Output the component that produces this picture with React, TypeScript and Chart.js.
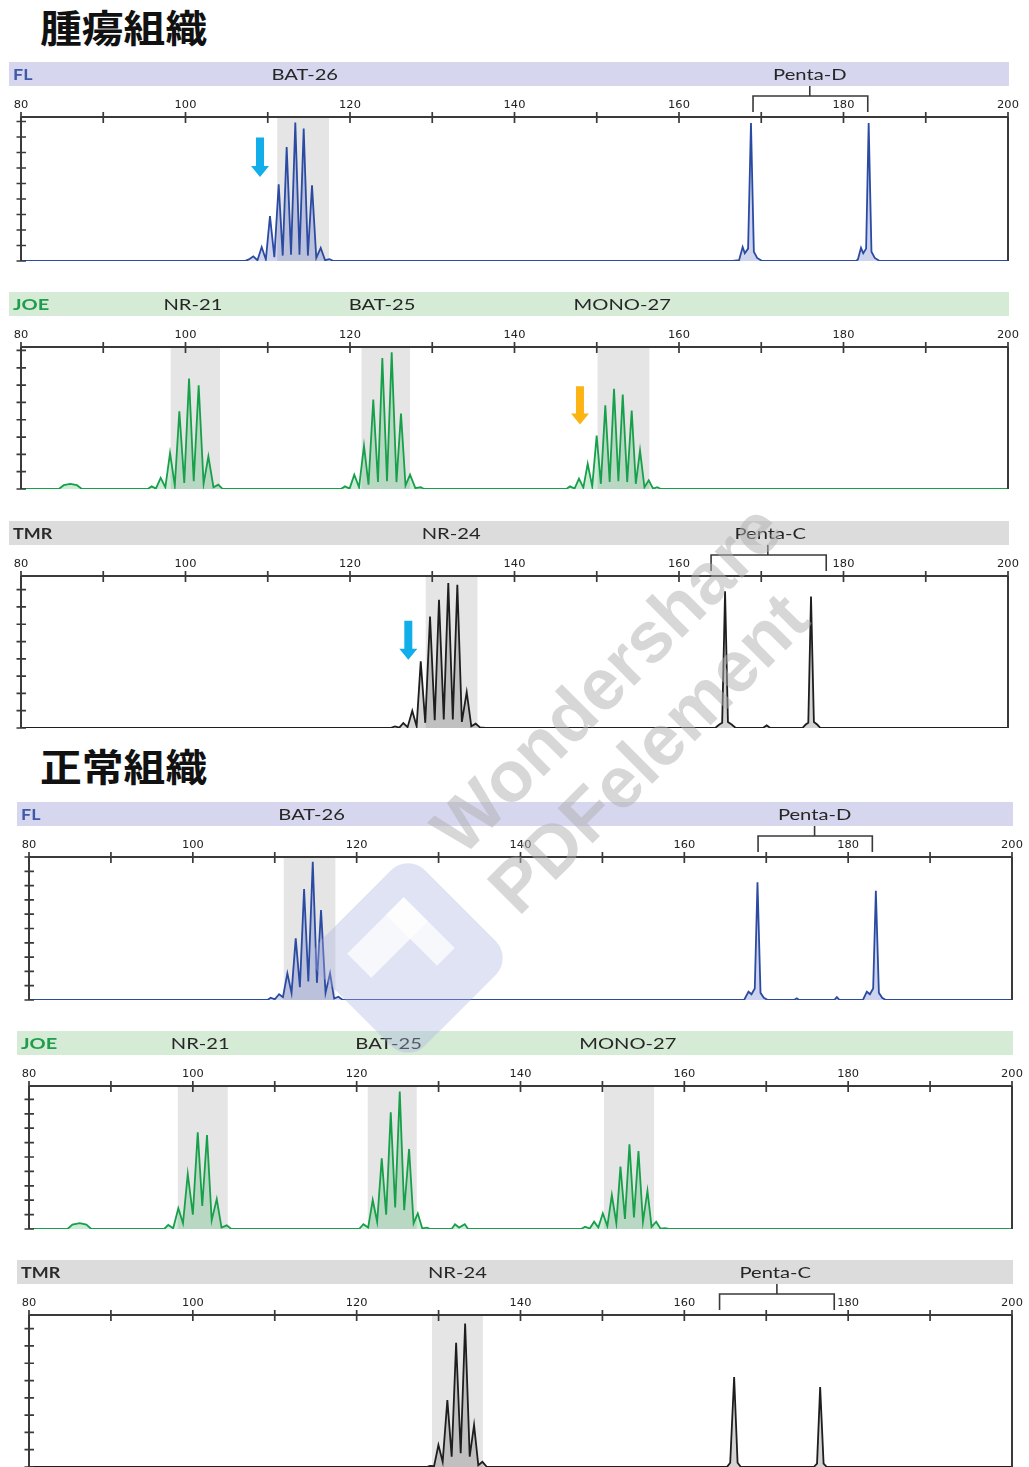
import React, { useEffect, useRef } from 'react';
import { Chart, registerables } from 'chart.js';

Chart.register(...registerables);

type Pt = [number, number];

// ---------- DATA ----------
const xTickValues = [80, 90, 100, 110, 120, 130, 140, 150, 160, 170, 180, 190, 200];
const xTickLabels = ['80', '100', '120', '140', '160', '180', '200'];
const xLabelValues = [80, 100, 120, 140, 160, 180, 200];

const flMarkers = ['BAT-26', 'Penta-D'];
const flMarkerPos = [114.5, 175.9];
const joeMarkers = ['NR-21', 'BAT-25', 'MONO-27'];
const joeMarkerPos = [100.9, 123.9, 153.1];
const tmrMarkers = ['NR-24', 'Penta-C'];
const tmrMarkerPos = [132.3, 171.1];

const flTumorTrace: Pt[] = [
  [80, 0], [107.2, 0], [107.7, 0.1], [108.24, 0.3], [108.75, 0.05], [109.26, 0.9], [109.77, 0.1],
  [110.27, 2.9], [110.8, 0.25], [111.33, 4.95], [111.82, 0.35], [112.3, 7.35], [112.83, 0.4],
  [113.35, 8.93], [113.86, 0.4], [114.37, 8.54], [114.88, 0.35], [115.38, 4.88], [115.9, 0.2],
  [116.44, 0.84], [116.97, 0.05], [117.5, 0.12], [118.0, 0],
  [166.5, 0], [167.3, 0.05], [167.74, 0.9], [168.0, 0.5], [168.4, 0.8], [168.75, 8.9], [169.1, 0.6],
  [169.5, 0.2], [170.1, 0],
  [181.5, 0], [181.75, 0.1], [182.13, 0.85], [182.4, 0.5], [182.75, 0.8], [183.06, 8.9], [183.4, 0.6],
  [183.8, 0.2], [184.4, 0], [200, 0],
];
const joeTumorTrace: Pt[] = [
  [80, 0], [84.6, 0], [85.2, 0.22], [86.0, 0.3], [86.8, 0.22], [87.4, 0],
  [95.4, 0], [95.89, 0.15], [96.4, 0.02], [96.98, 0.64], [97.55, 0.1], [98.12, 2.08], [98.7, 0.2],
  [99.25, 4.49], [99.85, 0.35], [100.43, 6.38], [101.0, 0.45], [101.6, 5.99], [102.2, 0.3],
  [102.78, 1.88], [103.4, 0.1], [103.99, 0.25], [104.5, 0],
  [118.9, 0], [119.39, 0.15], [119.95, 0.02], [120.52, 0.83], [121.1, 0.1], [121.7, 2.5], [122.25, 0.25],
  [122.83, 5.16], [123.4, 0.4], [123.93, 7.57], [124.5, 0.45], [125.07, 7.9], [125.65, 0.4],
  [126.2, 4.35], [126.75, 0.2], [127.3, 0.83], [127.95, 0.05], [128.6, 0.1], [129.0, 0],
  [146.3, 0], [146.75, 0.15], [147.3, 0.02], [147.84, 0.6], [148.37, 0.08], [148.9, 1.46], [149.45, 0.15],
  [149.99, 3.08], [150.5, 0.3], [151.04, 4.83], [151.57, 0.4], [152.1, 5.78], [152.63, 0.45],
  [153.16, 5.45], [153.7, 0.4], [154.25, 4.53], [154.75, 0.3], [155.26, 2.23], [155.8, 0.1],
  [156.32, 0.5], [156.85, 0.02], [157.36, 0.1], [157.8, 0], [200, 0],
];
const tmrTumorTrace: Pt[] = [
  [80, 0], [124.9, 0], [125.47, 0.09], [126.0, 0.02], [126.48, 0.29], [127.0, 0.05], [127.57, 1.0],
  [128.1, 0.1], [128.6, 3.85], [129.15, 0.3], [129.73, 6.45], [130.3, 0.45], [130.82, 7.42],
  [131.4, 0.5], [131.95, 8.38], [132.5, 0.5], [133.05, 8.28], [133.6, 0.35], [134.19, 2.08],
  [134.75, 0.1], [135.28, 0.25], [135.8, 0.03], [136.5, 0],
  [164.4, 0], [164.9, 0.2], [165.25, 0.3], [165.6, 7.9], [165.95, 0.35], [166.4, 0.2], [166.9, 0],
  [170.2, 0], [170.66, 0.15], [171.1, 0],
  [175.0, 0], [175.4, 0.2], [175.72, 0.3], [176.05, 7.6], [176.4, 0.35], [176.8, 0.2], [177.2, 0], [200, 0],
];
const flNormalTrace: Pt[] = [
  [80, 0], [109.1, 0], [109.51, 0.16], [110.0, 0.05], [110.53, 0.4], [111.0, 0.2], [111.54, 1.87],
  [112.05, 0.5], [112.56, 4.31], [113.07, 0.9], [113.58, 7.76], [114.1, 1.3], [114.64, 9.67],
  [115.15, 1.2], [115.65, 6.29], [116.2, 0.5], [116.75, 1.87], [117.25, 0.1], [117.77, 0.23], [118.3, 0],
  [167.3, 0], [167.83, 0.58], [168.2, 0.4], [168.6, 0.8], [168.93, 8.23], [169.3, 0.5], [169.7, 0.15], [170.2, 0],
  [173.4, 0], [173.73, 0.12], [174.0, 0],
  [178.3, 0], [178.62, 0.2], [178.95, 0],
  [181.8, 0], [182.28, 0.58], [182.65, 0.4], [183.05, 0.8], [183.38, 7.64], [183.75, 0.5], [184.15, 0.15],
  [184.6, 0], [200, 0],
];
const joeNormalTrace: Pt[] = [
  [80, 0], [84.7, 0], [85.3, 0.3], [86.2, 0.4], [87.0, 0.3], [87.6, 0],
  [96.5, 0], [97.0, 0.28], [97.6, 0.05], [98.23, 1.44], [98.8, 0.4], [99.38, 3.82], [100.0, 1.0],
  [100.6, 6.71], [101.15, 1.6], [101.73, 6.53], [102.3, 0.6], [102.92, 2.08], [103.5, 0.1],
  [104.14, 0.25], [104.7, 0],
  [120.3, 0], [120.82, 0.33], [121.4, 0.1], [121.96, 2.01], [122.5, 0.5], [123.06, 4.91], [123.6, 1.0],
  [124.16, 8.1], [124.7, 1.5], [125.26, 9.54], [125.8, 1.3], [126.4, 5.56], [126.95, 0.4],
  [127.46, 1.09], [128.0, 0.05], [128.56, 0.1], [129.0, 0],
  [131.6, 0], [132.0, 0.33], [132.5, 0.1], [133.2, 0.33], [133.6, 0],
  [147.4, 0], [147.89, 0.16], [148.45, 0.03], [148.99, 0.51], [149.5, 0.1], [150.05, 1.09], [150.6, 0.2],
  [151.15, 2.36], [151.7, 0.4], [152.2, 4.33], [152.75, 0.7], [153.3, 5.88], [153.85, 0.8],
  [154.4, 5.42], [154.95, 0.5], [155.5, 2.66], [156.0, 0.15], [156.56, 0.51], [157.1, 0.02],
  [157.66, 0.05], [158.1, 0], [200, 0],
];
const tmrNormalTrace: Pt[] = [
  [80, 0], [128.5, 0], [128.96, 0.06], [129.45, 0.05], [129.98, 1.27], [130.5, 0.3], [131.07, 3.87],
  [131.6, 0.6], [132.14, 7.19], [132.7, 0.8], [133.24, 8.3], [133.8, 0.6], [134.33, 2.43],
  [134.85, 0.1], [135.35, 0.3], [135.9, 0],
  [165.2, 0], [165.6, 0.25], [166.08, 5.2], [166.5, 0.25], [166.9, 0],
  [175.8, 0], [176.2, 0.2], [176.58, 4.62], [177.0, 0.2], [177.4, 0], [200, 0],
];

// allele bins (gray boxes), in bp
const flTumorBins: Pt[] = [[111.16, 117.45]];
const joeTumorBins: Pt[] = [[98.2, 104.2], [121.4, 127.3], [150.1, 156.4]];
const tmrTumorBins: Pt[] = [[129.2, 135.5]];
const flNormalBins: Pt[] = [[111.1, 117.4]];
const joeNormalBins: Pt[] = [[98.16, 104.26], [121.35, 127.33], [150.2, 156.3]];
const tmrNormalBins: Pt[] = [[129.2, 135.4]];

// brackets [from, to, centre] in bp
const pentaDBracket = [169.0, 182.95, 175.9];
const pentaCBracket = [163.9, 177.9, 170.8];
const pentaCBracketNormal = [164.3, 178.3, 171.3];

// arrows: [bp, top value, tip value]
const flTumorArrows = [[109.06, 7.96, 5.42]];
const joeTumorArrows = [[147.96, 5.93, 3.72]];
const tmrTumorArrows = [[127.09, 6.2, 3.95]];

// ---------- LAYOUT ----------
const W = 1029;
const H = 1467;

type Panel = {
  trace: Pt[]; bins: Pt[]; markers: string[]; markerPos: number[];
  tag: string; tagColor: string; band: string; line: string; fill: string;
  ymax: number; top: number; base: number; left: number; right: number; hx0: number; hx1: number;
  bracket?: number[]; arrows?: number[][]; arrowColor?: string;
};

const BLUE = '#2b4ba3';
const GREEN = '#17a04a';
const DARK = '#1e1e1e';

const panels: Panel[] = [
  { trace: flTumorTrace, bins: flTumorBins, markers: flMarkers, markerPos: flMarkerPos, tag: 'FL', tagColor: '#3d5aa8', band: '#d6d7ee', line: BLUE, fill: 'rgba(80,100,190,0.28)', ymax: 9.29, top: 117, base: 261, left: 21, right: 1008, hx0: 9, hx1: 1009, bracket: pentaDBracket, arrows: flTumorArrows, arrowColor: '#12aeea' },
  { trace: joeTumorTrace, bins: joeTumorBins, markers: joeMarkers, markerPos: joeMarkerPos, tag: 'JOE', tagColor: '#1f9d4d', band: '#d5ebd6', line: GREEN, fill: 'rgba(60,180,100,0.26)', ymax: 8.2, top: 347, base: 489, left: 21, right: 1008, hx0: 9, hx1: 1009, arrows: joeTumorArrows, arrowColor: '#fbb414' },
  { trace: tmrTumorTrace, bins: tmrTumorBins, markers: tmrMarkers, markerPos: tmrMarkerPos, tag: 'TMR', tagColor: '#2a2a2a', band: '#dcdcdc', line: DARK, fill: 'rgba(90,90,90,0.26)', ymax: 8.79, top: 576, base: 728, left: 21, right: 1008, hx0: 9, hx1: 1009, bracket: pentaCBracket, arrows: tmrTumorArrows, arrowColor: '#12aeea' },
  { trace: flNormalTrace, bins: flNormalBins, markers: flMarkers, markerPos: flMarkerPos, tag: 'FL', tagColor: '#3d5aa8', band: '#d6d7ee', line: BLUE, fill: 'rgba(80,100,190,0.28)', ymax: 10.0, top: 857, base: 1000, left: 29, right: 1012, hx0: 17, hx1: 1013, bracket: pentaDBracket },
  { trace: joeNormalTrace, bins: joeNormalBins, markers: joeMarkers, markerPos: joeMarkerPos, tag: 'JOE', tagColor: '#1f9d4d', band: '#d5ebd6', line: GREEN, fill: 'rgba(60,180,100,0.26)', ymax: 9.93, top: 1086, base: 1229, left: 29, right: 1012, hx0: 17, hx1: 1013 },
  { trace: tmrNormalTrace, bins: tmrNormalBins, markers: tmrMarkers, markerPos: tmrMarkerPos, tag: 'TMR', tagColor: '#2a2a2a', band: '#dcdcdc', line: DARK, fill: 'rgba(90,90,90,0.26)', ymax: 8.79, top: 1315, base: 1467, left: 29, right: 1012, hx0: 17, hx1: 1013, bracket: pentaCBracketNormal },
];

const PAD_TOP = 60;
const PAD_BOTTOM = 6;

function drawText(ctx: CanvasRenderingContext2D, text: string, x: number, y: number, font: string, color: string, sx: number, align: CanvasTextAlign) {
  ctx.save();
  ctx.translate(x, y);
  ctx.scale(sx, 1);
  ctx.font = font;
  ctx.fillStyle = color;
  ctx.textAlign = align;
  ctx.textBaseline = 'middle';
  ctx.fillText(text, 0, 0);
  ctx.restore();
}

function makePlugin(p: Panel) {
  return {
    id: 'epgDecor',
    beforeDatasetsDraw(chart: any) {
      const ctx: CanvasRenderingContext2D = chart.ctx;
      const xs = chart.scales.x;
      const ys = chart.scales.y;
      const top = ys.getPixelForValue(ys.max);
      const base = ys.getPixelForValue(0);
      ctx.save();
      ctx.fillStyle = p.band;
      ctx.fillRect(p.hx0, top - 55, p.hx1 - p.hx0, 24);
      drawText(ctx, p.tag, p.hx0 + 4, top - 42, 'bold 16px Lato', p.tagColor, p.tag === 'JOE' ? 1.25 : 1.12, 'left');
      p.markers.forEach((m, i) => {
        drawText(ctx, m, xs.getPixelForValue(p.markerPos[i]), top - 42, '16px Lato', '#262626', 1.26, 'center');
      });
      ctx.fillStyle = '#e5e5e5';
      for (const [a, b] of p.bins) {
        const x0 = xs.getPixelForValue(a);
        const x1 = xs.getPixelForValue(b);
        ctx.fillRect(x0, top, x1 - x0, base - top);
      }
      ctx.restore();
    },
    afterDatasetsDraw(chart: any) {
      const ctx: CanvasRenderingContext2D = chart.ctx;
      const xs = chart.scales.x;
      const ys = chart.scales.y;
      const top = ys.getPixelForValue(ys.max);
      const base = ys.getPixelForValue(0);
      const l = xs.getPixelForValue(80);
      const r = xs.getPixelForValue(200);
      ctx.save();
      ctx.strokeStyle = '#3a3a3a';
      ctx.lineWidth = 2;
      ctx.beginPath();
      ctx.moveTo(l, top); ctx.lineTo(r, top);
      ctx.moveTo(l, top); ctx.lineTo(l, base);
      ctx.moveTo(r, top); ctx.lineTo(r, base);
      ctx.stroke();
      ctx.lineWidth = 1.7;
      ctx.beginPath();
      for (const v of xTickValues) {
        const x = xs.getPixelForValue(v);
        ctx.moveTo(x, top - 5); ctx.lineTo(x, top + 6);
      }
      for (let i = 0; i <= Math.floor(ys.max); i++) {
        const y = ys.getPixelForValue(i);
        ctx.moveTo(l - 4.5, y); ctx.lineTo(l + 5, y);
      }
      ctx.stroke();
      xLabelValues.forEach((v, i) => {
        drawText(ctx, xTickLabels[i], xs.getPixelForValue(v), top - 12, '10px "DejaVu Sans"', '#222', 1.14, 'center');
      });
      if (p.bracket) {
        const [a, b, c] = p.bracket;
        const xa = xs.getPixelForValue(a), xb = xs.getPixelForValue(b), xc = xs.getPixelForValue(c);
        ctx.lineWidth = 1.6;
        ctx.beginPath();
        ctx.moveTo(xa, top - 5); ctx.lineTo(xa, top - 21); ctx.lineTo(xb, top - 21); ctx.lineTo(xb, top - 5);
        ctx.moveTo(xc, top - 21); ctx.lineTo(xc, top - 31);
        ctx.stroke();
      }
      if (p.arrows) {
        ctx.fillStyle = p.arrowColor || '#12aeea';
        for (const [bp, yt, yb] of p.arrows) {
          const x = xs.getPixelForValue(bp);
          const y0 = ys.getPixelForValue(yt);
          const y1 = ys.getPixelForValue(yb);
          ctx.beginPath();
          ctx.moveTo(x - 4, y0); ctx.lineTo(x + 4, y0); ctx.lineTo(x + 4, y1 - 11);
          ctx.lineTo(x + 9, y1 - 11); ctx.lineTo(x, y1); ctx.lineTo(x - 9, y1 - 11);
          ctx.lineTo(x - 4, y1 - 11); ctx.closePath();
          ctx.fill();
        }
      }
      ctx.restore();
    },
  };
}

function PanelChart({ p }: { p: Panel }) {
  const ref = useRef<HTMLCanvasElement>(null);
  const ch = p.base - p.top + PAD_TOP + PAD_BOTTOM;
  useEffect(() => {
    if (!ref.current) return;
    const chart = new Chart(ref.current, {
      type: 'line',
      data: {
        datasets: [{
          data: p.trace.map(([x, y]) => ({ x, y })),
          borderColor: p.line,
          backgroundColor: p.fill,
          fill: 'origin',
          borderWidth: 1.8,
          pointRadius: 0,
          tension: 0,
        }],
      },
      options: {
        responsive: false,
        animation: false,
        devicePixelRatio: 1,
        events: [],
        layout: { padding: { left: p.left, right: W - p.right, top: PAD_TOP, bottom: PAD_BOTTOM } },
        scales: {
          x: { type: 'linear', min: 80, max: 200, display: false },
          y: { type: 'linear', min: 0, max: p.ymax, display: false },
        },
        plugins: { legend: { display: false }, tooltip: { enabled: false } },
      },
      plugins: [makePlugin(p) as any],
    } as any);
    return () => chart.destroy();
  }, [p]);
  return (
    <canvas ref={ref} width={W} height={ch}
      style={{ position: 'absolute', left: 0, top: p.top - PAD_TOP, width: W, height: ch }} />
  );
}

function Watermark() {
  const ref = useRef<HTMLCanvasElement>(null);
  useEffect(() => {
    const c = ref.current;
    if (!c) return;
    const ctx = c.getContext('2d')!;
    ctx.clearRect(0, 0, W, H);
    // logo
    ctx.save();
    ctx.translate(408, 958);
    ctx.rotate(Math.PI / 4);
    ctx.fillStyle = 'rgba(170,178,225,0.36)';
    const s = 148, rr = 24;
    ctx.beginPath();
    ctx.moveTo(-s / 2 + rr, -s / 2);
    ctx.arcTo(s / 2, -s / 2, s / 2, s / 2, rr);
    ctx.arcTo(s / 2, s / 2, -s / 2, s / 2, rr);
    ctx.arcTo(-s / 2, s / 2, -s / 2, -s / 2, rr);
    ctx.arcTo(-s / 2, -s / 2, s / 2, -s / 2, rr);
    ctx.closePath();
    ctx.fill();
    ctx.fillStyle = 'rgba(255,255,255,0.75)';
    ctx.fillRect(-46, -40, 34, 80);
    ctx.fillRect(-46, -40, 72, 25);
    ctx.restore();
    // text
    ctx.save();
    ctx.translate(462, 858);
    ctx.rotate(-Math.PI / 4);
    ctx.fillStyle = 'rgba(175,175,175,0.5)';
    ctx.font = 'bold 72px "Liberation Sans"';
    ctx.textBaseline = 'alphabetic';
    ctx.fillText('Wondershare', 0, 0);
    ctx.fillText('PDFelement', -2, 82);
    ctx.restore();
  }, []);
  return <canvas ref={ref} width={W} height={H} style={{ position: 'absolute', left: 0, top: 0, width: W, height: H, pointerEvents: 'none' }} />;
}

const titleStyle: React.CSSProperties = {
  position: 'absolute', left: 40, margin: 0, fontFamily: '"Noto Sans CJK JP", sans-serif',
  fontWeight: 700, fontSize: 38, lineHeight: '38px', color: '#111', transform: 'scaleX(1.1)',
  transformOrigin: '0 0', whiteSpace: 'nowrap',
};

export default function App() {
  return (
    <div style={{ position: 'absolute', left: 0, top: 0, width: W, height: H, overflow: 'hidden', background: '#fff' }}>
      <div style={{ ...titleStyle, top: 7 }}>腫瘍組織</div>
      <div style={{ ...titleStyle, top: 746 }}>正常組織</div>
      {panels.map((p, i) => <PanelChart key={i} p={p} />)}
      <Watermark />
    </div>
  );
}
